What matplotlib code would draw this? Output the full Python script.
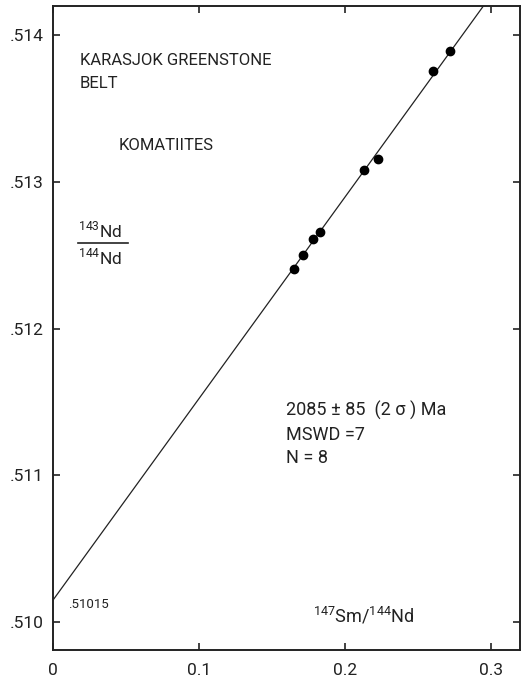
import numpy as np
import matplotlib
matplotlib.use("Agg")
import matplotlib.pyplot as plt

plt.rcParams['font.family'] = ['Roboto', 'DejaVu Sans']
plt.rcParams['mathtext.fontset'] = 'custom'
plt.rcParams['mathtext.rm'] = 'Roboto'

# 147Sm/144Nd and 143Nd/144Nd for the eight komatiite samples
sm_nd = [0.1651, 0.1712, 0.1783, 0.1831, 0.2132, 0.2228, 0.2605, 0.2721]
nd_nd = [0.51241, 0.51250, 0.51261, 0.51266, 0.51308, 0.51316, 0.51376, 0.51389]

# isochron: initial ratio and age
initial_ratio = 0.51015
age_ma = 2085
decay_const = 6.54e-12  # 147Sm, per year

xticks = [0, 0.1, 0.2, 0.3]
xticklabels = ['0', '0.1', '0.2', '0.3']
yticks = [0.510, 0.511, 0.512, 0.513, 0.514]
yticklabels = ['.510', '.511', '.512', '.513', '.514']

fig = plt.figure(figsize=(5.22, 6.79), dpi=100)
ax = fig.add_axes([0.1015, 0.0427, 0.8945, 0.9485])

slope = np.exp(decay_const * age_ma * 1e6) - 1
xl = np.array([0.0, 0.32])
ax.plot(xl, initial_ratio + slope * xl, color='#222222', lw=0.9, zorder=2)
ax.plot(sm_nd, nd_nd, 'o', color='black', ms=6, zorder=3)

ax.set_xlim(0, 0.32)
ax.set_ylim(0.50981, 0.5142)
ax.set_xticks(xticks)
ax.set_xticklabels(xticklabels)
ax.set_yticks(yticks)
ax.set_yticklabels(yticklabels)
ax.tick_params(direction='in', length=5, width=1.2, labelsize=12.5,
               top=True, right=True, colors='#222222')
ax.tick_params(axis='x', pad=9)
ax.tick_params(axis='y', pad=7)
for s in ax.spines.values():
    s.set_linewidth(1.4)
    s.set_color('#222222')

tc = '#222222'
fs = 12
ax.text(0.0185, 0.513796, 'KARASJOK GREENSTONE', fontsize=fs, color=tc)
ax.text(0.0185, 0.513639, 'BELT', fontsize=fs, color=tc)
ax.text(0.0452, 0.513216, 'KOMATIITES', fontsize=fs, color=tc)

# y-axis label as a stacked ratio
ax.text(0.0171, 0.512620, r'$^{143}$Nd', fontsize=12.5, color=tc)
ax.text(0.0171, 0.512440, r'$^{144}$Nd', fontsize=12.5, color=tc)
ax.plot([0.0171, 0.0514], [0.512587, 0.512587], color=tc, lw=1.2)

ax.text(0.1596, 0.511404, '2085 \u00b1 85  (2 \u03c3 ) Ma', fontsize=13, color=tc)
ax.text(0.1596, 0.511240, 'MSWD =7', fontsize=13, color=tc)
ax.text(0.1596, 0.511083, 'N = 8', fontsize=13, color=tc)

ax.text(0.0103, 0.510095, '.51015', fontsize=9.5, color=tc)
ax.text(0.178, 0.510, r'$^{147}$Sm/$^{144}$Nd', fontsize=13, color=tc)

fig.savefig('out.png', dpi=100)
